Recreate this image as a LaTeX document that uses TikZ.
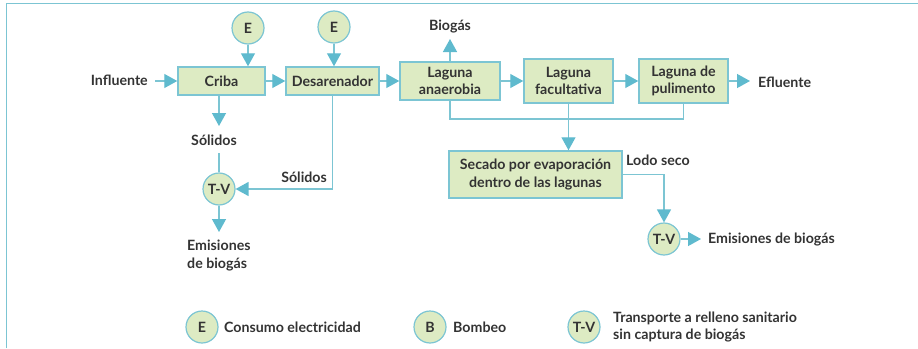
\documentclass[tikz,border=0pt]{standalone}
\usepackage{fontspec}
\setmainfont{Lato}
\usetikzlibrary{arrows.meta}
\definecolor{boxfill}{HTML}{DDEBC3}
\definecolor{boxline}{HTML}{7CC5D3}
\definecolor{arr}{HTML}{5FBACE}
\definecolor{txt}{HTML}{333333}
\begin{document}
\begin{tikzpicture}[x=1pt,y=-1pt,
  every node/.style={text=txt,font=\bfseries\fontsize{14.2}{17.5}\selectfont},
  procbox/.style={draw=boxline,fill=boxfill,line width=1.5pt,inner sep=0pt,align=center},
  circ/.style={circle,draw=boxline,fill=boxfill,line width=1.2pt,minimum size=32pt,inner sep=0pt},
  lbl/.style={inner sep=0pt},
  conn/.style={draw=boxline,line width=1.4pt},
  flow/.style={conn,-{Triangle[length=13pt,width=14pt,fill=arr,color=arr]}}
]
\useasboundingbox (0,0) rectangle (918,348);
\draw[boxline,line width=1.5pt] (6.3,348) -- (6.3,3.3) -- (918,3.3);

% process boxes
\node[procbox,minimum width=87pt,minimum height=28pt] (criba) at (221.5,81) {Criba};
\node[procbox,minimum width=93pt,minimum height=28pt] (des) at (332.5,81) {Desarenador};
\node[procbox,minimum width=100pt,minimum height=38pt] (lana) at (450,81) {Laguna\\anaerobia};
\node[procbox,minimum width=89pt,minimum height=44pt] (lfac) at (568.5,81) {Laguna\\facultativa};
\node[procbox,minimum width=89pt,minimum height=44pt] (lpul) at (683.5,81) {Laguna de\\pulimento};
\node[procbox,minimum width=173pt,minimum height=47pt] (sec) at (535.5,174.5) {Secado por evaporaci\'on\\dentro de las lagunas};

% circles
\node[circ] (e1) at (248,28) {E};
\node[circ] (e2) at (334,27) {E};
\node[circ] (tv1) at (219,189) {T-V};
\node[circ] (tv2) at (664,239) {T-V};

% labels
\node[lbl,anchor=east] (infl) at (148,80) {Influente};
\node[lbl,anchor=west] (efl) at (758,82) {Efluente};
\node[lbl] (biog) at (450,27) {Biog\'as};
\node[lbl] (sol1) at (214,140) {S\'olidos};
\node[lbl,anchor=east] (sol2) at (327,177) {S\'olidos};
\node[lbl,align=left,anchor=north west] (emi1) at (187,240) {Emisiones\\de biog\'as};
\node[lbl,anchor=west] (lodo) at (626,160) {Lodo seco};
\node[lbl,anchor=west] (emi2) at (708,240) {Emisiones de biog\'as};

\coordinate (infS) at (155,81);
\coordinate (effE) at (750,81);
\coordinate (biogE) at (450,39);
\coordinate (sol1E) at (219,126);
\coordinate (sol1S) at (219,153);
\coordinate (tv1E) at (219,232);
\coordinate (tv2E) at (701,239);
\coordinate (coll) at (568,119);

% connectors
\draw[flow] (infS) -- (criba.west);
\draw[flow] (criba) -- (des);
\draw[flow] (des) -- (lana);
\draw[flow] (lana) -- (lfac);
\draw[flow] (lfac) -- (lpul);
\draw[flow] (lpul) -- (effE);
\draw[flow] (e1) -- (e1|-criba.north);
\draw[flow] (e2) -- (e2|-des.north);
\draw[flow] (lana.north) -- (biogE);
\draw[flow] (criba.south-|sol1E) -- (sol1E);
\draw[conn] (sol1S) -- (tv1);
\draw[flow] (des.south) |- (tv1.east);
\draw[flow] (tv1) -- (tv1E);
\draw[conn] (lana.south) |- (coll) -| (lpul.south);
\draw[flow] (lfac.south) -- (lfac.south|-sec.north);
\draw[flow] (sec.east) -| (tv2.north);
\draw[flow] (tv2) -- (tv2E);

% legend
\node[circ] (le) at (202,327) {E};
\node[lbl,anchor=west] (let) at (224,327) {Consumo electricidad};
\node[circ] (lb) at (430,327) {B};
\node[lbl,anchor=west] (lbt) at (453,327) {Bombeo};
\node[circ] (ltv) at (584,327) {T-V};
\node[lbl,anchor=west,align=left] (ltvt) at (613,327) {Transporte a relleno sanitario\\sin captura de biog\'as};
\end{tikzpicture}
\end{document}
